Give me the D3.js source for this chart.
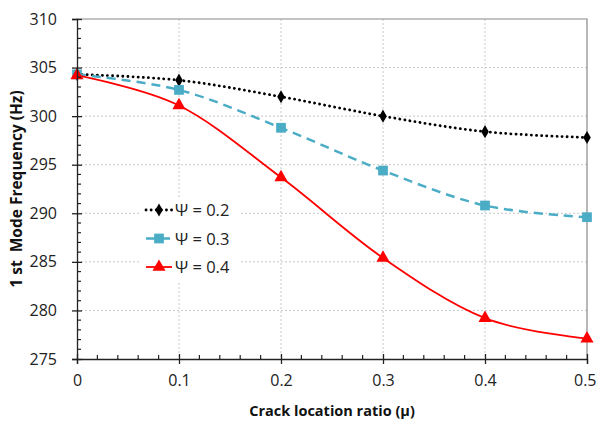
<!DOCTYPE html>
<html><head><meta charset="utf-8">
<script src="https://cdn.jsdelivr.net/npm/d3@7"></script>
<style>body{margin:0;background:#fff}svg{display:block}</style>
</head><body>
<svg id="c" width="597" height="427"></svg>
<script>
const xValues = [0, 0.1, 0.2, 0.3, 0.4, 0.5];
const psi02 = [304.3, 303.7, 302.0, 300.0, 298.4, 297.8];
const psi03 = [304.3, 302.7, 298.8, 294.4, 290.8, 289.6];
const psi04 = [304.2, 301.1, 293.7, 285.4, 279.2, 277.1];
const seriesNames = ["\u03A8 = 0.2", "\u03A8 = 0.3", "\u03A8 = 0.4"];
const xTicks = [0, 0.1, 0.2, 0.3, 0.4, 0.5];
const yTicks = [275, 280, 285, 290, 295, 300, 305, 310];

const svg = d3.select("#c");
const L = 77, R = 587, T = 19, B = 359;
const x = d3.scaleLinear().domain([0, 0.5]).range([L, R]);
const y = d3.scaleLinear().domain([275, 310]).range([B, T]);
const font = "'Open Sans', sans-serif";

// gridlines
const g = svg.append("g");
g.selectAll(".gx").data(xTicks.slice(1, -1)).join("line")
  .attr("x1", d => x(d)).attr("x2", d => x(d)).attr("y1", T).attr("y2", B)
  .attr("stroke", "#c8c8c8").attr("stroke-width", 1).attr("stroke-dasharray", "2,2");
g.selectAll(".gy").data(yTicks.slice(1, -1)).join("line")
  .attr("x1", L).attr("x2", R).attr("y1", d => y(d)).attr("y2", d => y(d))
  .attr("stroke", "#c8c8c8").attr("stroke-width", 1).attr("stroke-dasharray", "2,2");

// plot border top/right
svg.append("path").attr("d", `M${L},${T}H${R}V${B}`).attr("fill", "none")
  .attr("stroke", "#888").attr("stroke-width", 1.2);

// series
const series = [
  {vals: psi02, color: "#000000", dash: "0.1,5", width: 2.8, cap: "round", marker: "diamond", msize: 50},
  {vals: psi03, color: "#4bacc6", dash: "9,6", width: 2.5, cap: "butt", marker: "square", msize: 95},
  {vals: psi04, color: "#ff0000", dash: null, width: 1.8, cap: "butt", marker: "triangle", msize: 75}
];
const symMap = {diamond: d3.symbolDiamond, square: d3.symbolSquare, triangle: d3.symbolTriangle};
const line = d3.line().x((d, i) => x(xValues[i])).y(d => y(d)).curve(d3.curveCatmullRom.alpha(0));

series.forEach(s => {
  svg.append("path").attr("d", line(s.vals)).attr("fill", "none")
    .attr("stroke", s.color).attr("stroke-width", s.width)
    .attr("stroke-linecap", s.cap)
    .attr("stroke-dasharray", s.dash);
  svg.selectAll(null).data(s.vals).join("path")
    .attr("transform", (d, i) => `translate(${x(xValues[i])},${y(d)})`)
    .attr("d", d3.symbol().type(symMap[s.marker]).size(s.msize))
    .attr("fill", s.color);
});

// axes
const ax = d3.axisBottom(x).tickValues(xTicks).tickFormat(d => d === 0 ? "0" : d3.format(".1f")(d)).tickSize(5).tickPadding(11);
const xg = svg.append("g").attr("transform", `translate(0,${B})`).call(ax);
xg.select(".domain").attr("stroke", "#222").attr("stroke-width", 1.3);
xg.selectAll(".tick line").attr("stroke", "#222").attr("stroke-width", 1.3).attr("y1", -5).attr("y2", 5);
xg.selectAll("text").attr("font-family", font).attr("font-size", 16).attr("fill", "#222");
// keep the last label inside the window
xg.selectAll(".tick text").filter(d => d === 0.5).attr("text-anchor", "end").attr("x", 596 - x(0.5));
// minor x ticks
const xMinor = d3.range(0, 0.5001, 0.02).filter(v => Math.abs(v * 10 - Math.round(v * 10)) > 1e-6);
svg.selectAll(".mx").data(xMinor).join("line")
  .attr("x1", d => x(d)).attr("x2", d => x(d)).attr("y1", B - 4).attr("y2", B)
  .attr("stroke", "#222").attr("stroke-width", 1.2);

const ay = d3.axisLeft(y).tickValues(yTicks).tickSize(5).tickPadding(15);
const yg = svg.append("g").attr("transform", `translate(${L},0)`).call(ay);
yg.select(".domain").attr("stroke", "#222").attr("stroke-width", 1.3);
yg.selectAll(".tick line").attr("stroke", "#222").attr("stroke-width", 1.3).attr("x1", 5).attr("x2", -5);
yg.selectAll("text").attr("font-family", font).attr("font-size", 16).attr("fill", "#222");
const yMinor = d3.range(275, 310.01, 1).filter(v => v % 5 !== 0);
svg.selectAll(".my").data(yMinor).join("line")
  .attr("x1", L).attr("x2", L + 4).attr("y1", d => y(d)).attr("y2", d => y(d))
  .attr("stroke", "#222").attr("stroke-width", 1.2);

// axis titles
svg.append("text").attr("x", 332).attr("y", 416).attr("text-anchor", "middle")
  .attr("font-family", font).attr("font-weight", "bold").attr("font-size", 14.5).attr("fill", "#111")
  .text("Crack location ratio (\u03BC)");
svg.append("text").attr("transform", "translate(22,189) rotate(-90)").attr("text-anchor", "middle")
  .attr("font-family", font).attr("font-weight", "bold").attr("font-size", 15.5).attr("fill", "#111")
  .attr("xml:space", "preserve")
  .text("1 st  Mode Frequency (Hz)");

// legend
const lg = svg.append("g");
lg.append("rect").attr("x", 140).attr("y", 197).attr("width", 100).attr("height", 84).attr("fill", "#fff");
series.forEach((s, i) => {
  const yy = 210 + i * 28.5;
  lg.append("line").attr("x1", 146).attr("x2", 172).attr("y1", yy).attr("y2", yy)
    .attr("stroke", s.color).attr("stroke-width", s.width).attr("stroke-linecap", s.cap)
    .attr("stroke-dasharray", s.dash);
  lg.append("path").attr("transform", `translate(159,${yy})`)
    .attr("d", d3.symbol().type(symMap[s.marker]).size(s.msize)).attr("fill", s.color);
  lg.append("text").attr("x", 175).attr("y", yy + 6).attr("font-family", font)
    .attr("font-size", 16.5).attr("fill", "#222").text(seriesNames[i]);
});
</script>
</body></html>
